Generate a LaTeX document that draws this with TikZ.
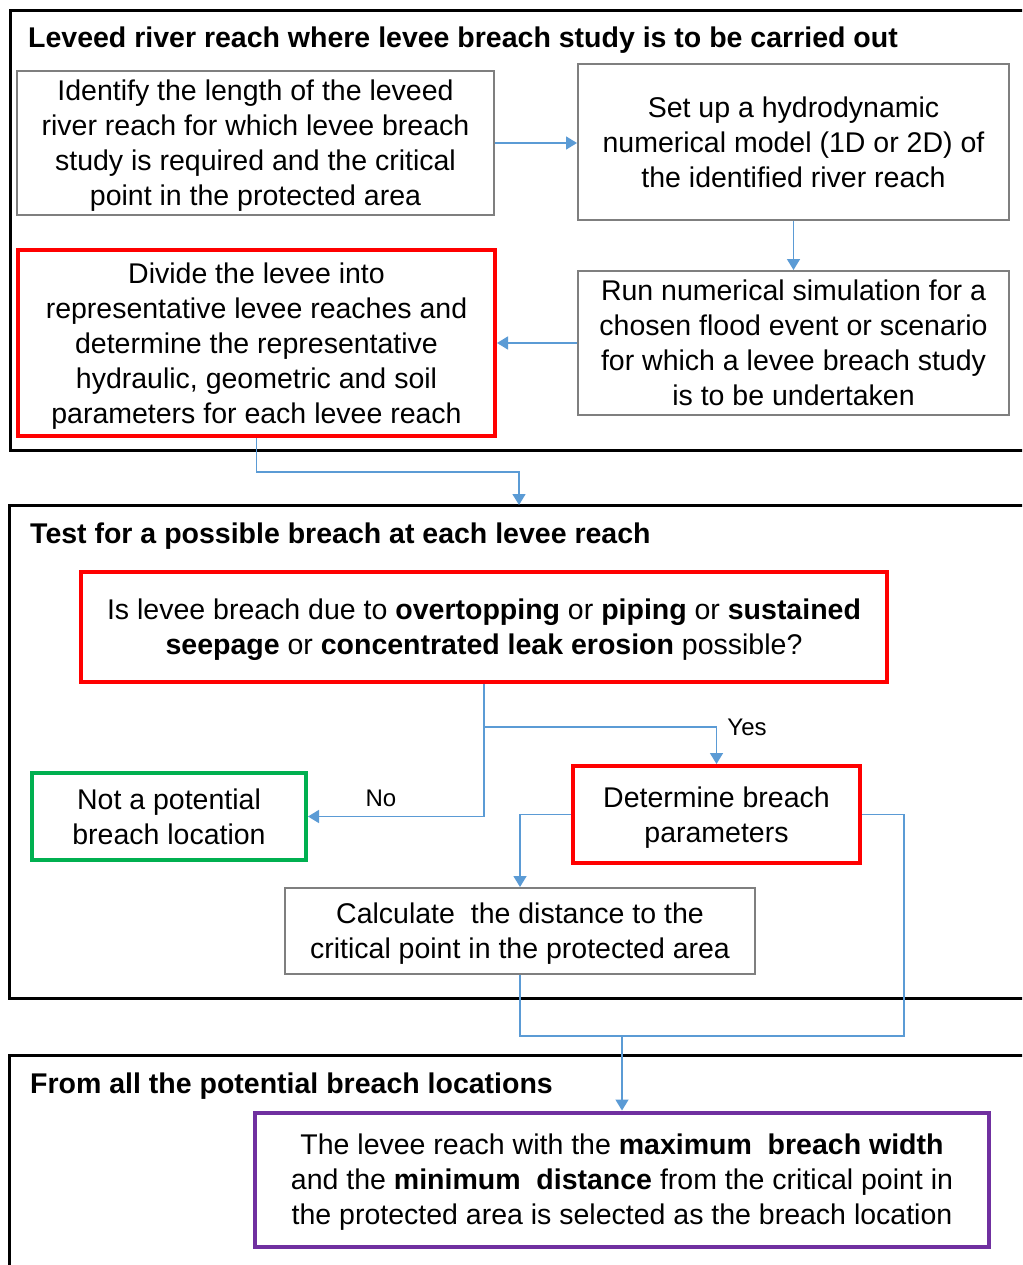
\documentclass[tikz,border=0pt]{standalone}
\usepackage{fontspec}
\setmainfont{Liberation Sans}
\usetikzlibrary{arrows.meta}
\definecolor{boxgray}{HTML}{7F7F7F}
\definecolor{boxred}{HTML}{FF0000}
\definecolor{boxgreen}{HTML}{00B050}
\definecolor{boxpurple}{HTML}{7030A0}
\definecolor{connblue}{HTML}{5B9BD5}
\newcommand{\bodyfont}{\fontsize{28.5}{35}\selectfont}
\newcommand{\titlefont}{\fontsize{28.5}{35}\selectfont\bfseries}
\newcommand{\labelfont}{\fontsize{24}{28}\selectfont}
\tikzset{
  basebox/.style={align=center, inner sep=0pt, font=\bodyfont, text=black, fill=white, text depth=0pt},
  graybox/.style={basebox, draw=boxgray, line width=2pt},
  redbox/.style={basebox, draw=boxred, line width=4pt},
  greenbox/.style={basebox, draw=boxgreen, line width=4pt},
  purplebox/.style={basebox, draw=boxpurple, line width=4pt},
  frameline/.style={draw=black, line width=3pt},
  conn/.style={draw=connblue, line width=1.5pt, -{Triangle[width=13pt,length=11pt]}},
  plainconn/.style={draw=connblue, line width=1.5pt},
  titletext/.style={anchor=west, inner sep=0pt, font=\titlefont},
  lbl/.style={inner sep=0pt, font=\labelfont}
}
\begin{document}
\begin{tikzpicture}[x=1pt,y=-1pt]
\clip (0,0) rectangle (1022,1265);
\fill[white] (0,0) rectangle (1022,1265);

% frames
\draw[frameline] (1030,11) -- (10,11) -- (10,450) -- (1030,450);
\draw[frameline] (1030,505) -- (9,505) -- (9,998) -- (1030,998);
\draw[frameline] (1030,1055) -- (9,1055) -- (9,1275);

% titles
\node[titletext] (t1) at (28,40) {Leveed river reach where levee breach study is to be carried out};
\node[titletext] (t2) at (30,536) {Test for a possible breach at each levee reach};
\node[titletext] (t3) at (30,1086) {From all the potential breach locations};

% boxes
\node[graybox, minimum width=477, minimum height=144] (A) at (255.5,143)
  {Identify the length of the leveed\\river reach for which levee breach\\study is required and the critical\\point in the protected area};
\node[graybox, minimum width=431, minimum height=156] (B) at (793.5,142)
  {Set up a hydrodynamic\\numerical model (1D or 2D) of\\the identified river reach};
\node[graybox, minimum width=431, minimum height=144] (C) at (793.5,343)
  {Run numerical simulation for a\\chosen flood event or scenario\\for which a levee breach study\\is to be undertaken};
\node[redbox, minimum width=477, minimum height=186] (D) at (256.5,343)
  {Divide the levee into\\representative levee reaches and\\determine the representative\\hydraulic, geometric and soil\\parameters for each levee reach};
\node[redbox, minimum width=806, minimum height=110] (E) at (484,627)
  {Is levee breach due to \textbf{overtopping} or \textbf{piping} or \textbf{sustained}\\\textbf{seepage} or \textbf{concentrated leak erosion} possible?};
\node[greenbox, minimum width=274, minimum height=87] (F) at (169,816.5)
  {Not a potential\\breach location};
\node[redbox, minimum width=287, minimum height=97] (G) at (716.5,814.5)
  {Determine breach\\parameters};
\node[graybox, minimum width=470, minimum height=86] (H) at (520,931)
  {Calculate\ \ the distance to the\\critical point in the protected area};
\node[purplebox, minimum width=734, minimum height=134] (I) at (622,1179.5)
  {The levee reach with the \textbf{maximum\ \ breach width}\\and the \textbf{minimum\ \ distance} from the critical point in\\the protected area is selected as the breach location};

% connectors
\draw[conn] (A.east) -- (A.east -| B.west);
\draw[conn] (B.south) -- (C.north);
\draw[conn] (C.west) -- (C.west -| D.east);
\coordinate (f2top) at (519,505);
\draw[conn] (D.south) -- ++(0,34) -| (f2top);
\draw[plainconn] (E.south) -- ++(0,43) coordinate (split);
\draw[conn] (split) -| (G.north);
\draw[conn] (split) |- (F.east);
\node[lbl] (yes) at (747,727) {Yes};
\node[lbl] (no) at (381,798) {No};
\draw[conn] (G.west) -| (H.north);
\coordinate (m) at (622,1036);
\draw[plainconn] (G.east) -- ++(42,0) |- (m);
\draw[plainconn] (H.south) |- (m);
\draw[conn] (m) -- (I.north);
\end{tikzpicture}
\end{document}
